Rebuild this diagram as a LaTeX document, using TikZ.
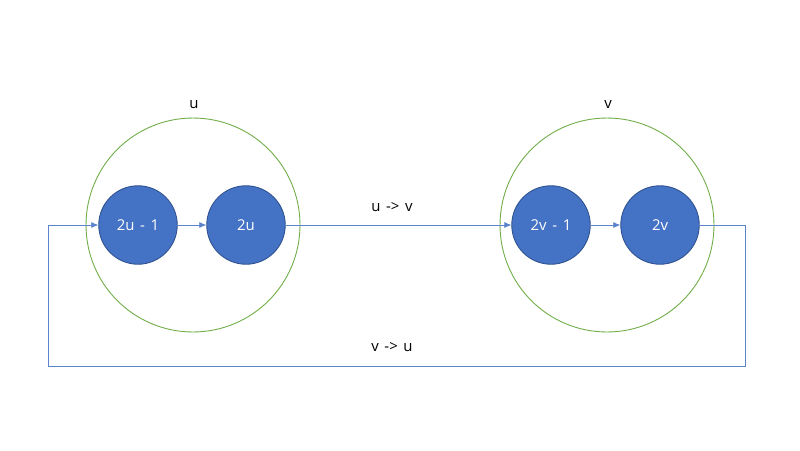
\documentclass[tikz,border=0pt]{standalone}
\usepackage{fontspec}
\setmainfont{Open Sans}
\usetikzlibrary{arrows.meta,positioning}
\definecolor{NodeBlue}{HTML}{4472C4}
\definecolor{NodeEdge}{HTML}{2F528F}
\definecolor{GroupGreen}{HTML}{70AD47}
\definecolor{LinkBlue}{HTML}{5B84CC}
\newcommand{\gap}{\hspace{3.2pt}}
\begin{document}
\begin{tikzpicture}[x=0.02cm,y=-0.02cm,>={Latex[length=4pt,width=3.5pt]},every node/.style={font=\fontsize{8.5}{10}\selectfont,text=black},
group/.style={circle,draw=GroupGreen,line width=.5pt,minimum size=4.28cm,inner sep=0pt},
vert/.style={circle,draw=NodeEdge,fill=NodeBlue,line width=.5pt,text=white,minimum size=1.57cm,inner sep=0pt},
link/.style={draw=LinkBlue,line width=.45pt,->}]
\fill[white](0,0)rectangle(800,450);\useasboundingbox(0,0)rectangle(800,450);
% the two groups
\node[group](U)at(193,225){};\node[group](V)at(607,225){};
\node(Ulab)at(194,105){u};\node(Vlab)at(608,105){v};
\node[vert](U1)at(138,225){2u\gap-\gap1};\node[vert](U2)at(246,225){2u};
\node[vert](V1)at(551,225){2v\gap-\gap1};\node[vert](V2)at(660,225){2v};
% links
\draw[link](U1)--(U2);\draw[link](V1)--(V2);\draw[link](U2)--(V1);
\node(UV)at(392,207){u\gap->\gap v};\node(VU)at(392,347){v\gap->\gap u};
\coordinate(Rc)at(745,366);\coordinate(Lc)at(48,366);
\draw[link](V2.east)-|(Rc)--(Lc)|-(U1.west);
\end{tikzpicture}
\end{document}
